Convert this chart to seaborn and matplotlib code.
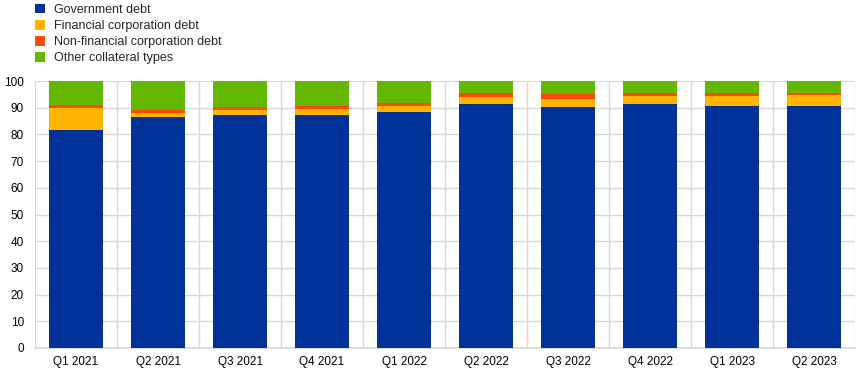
import numpy as np
import pandas as pd
import matplotlib
matplotlib.use("Agg")
import matplotlib.pyplot as plt
import seaborn as sns
from matplotlib.patches import Patch

quarters = ["Q1 2021", "Q2 2021", "Q3 2021", "Q4 2021", "Q1 2022",
            "Q2 2022", "Q3 2022", "Q4 2022", "Q1 2023", "Q2 2023"]
government = [81.7, 86.5, 87.3, 87.3, 88.3, 91.5, 90.1, 91.5, 90.5, 90.8]
financial = [8.3, 1.7, 1.7, 2.2, 2.3, 2.6, 3.2, 2.9, 3.9, 3.8]
nonfinancial = [1.0, 1.1, 1.3, 1.3, 1.0, 1.5, 1.7, 1.2, 1.2, 1.0]
other = [9.0, 10.7, 9.7, 9.2, 8.4, 4.4, 5.0, 4.4, 4.4, 4.4]

series_names = ["Government debt", "Financial corporation debt",
                "Non-financial corporation debt", "Other collateral types"]
colors = ["#003299", "#FFB400", "#FF4B00", "#65B800"]

sns.set_theme(style="white")
plt.rcParams["font.family"] = ["Liberation Sans", "DejaVu Sans"]

df = pd.DataFrame({"quarter": quarters, "gov": government, "fin": financial,
                   "nfc": nonfinancial, "oth": other})
cols = ["gov", "fin", "nfc", "oth"]
cum = df[cols].cumsum(axis=1)

fig = plt.figure(figsize=(8.68, 3.77), dpi=100)
ax = fig.add_axes([35 / 868, 29 / 377, 820 / 868, 267 / 377])

# draw from top layer down so lower segments overlay
for i in range(3, -1, -1):
    sns.barplot(x=df["quarter"], y=cum[cols[i]], color=colors[i], ax=ax,
                width=0.66, saturation=1, edgecolor="none", linewidth=0, zorder=3)

ax.set_xlim(-0.5, len(quarters) - 0.5)
ax.set_ylim(0, 100)
ax.set_yticks(np.arange(0, 101, 10))
ax.set_xlabel("")
ax.set_ylabel("")
ax.yaxis.grid(True, color="#d9d9d9", linewidth=1, zorder=0)
for xv in np.arange(-0.5, len(quarters), 1.0):
    ax.axvline(xv, color="#d9d9d9", linewidth=1, zorder=0)
for s in ["top", "right", "left"]:
    ax.spines[s].set_visible(False)
ax.spines["bottom"].set_color("#d9d9d9")
ax.tick_params(axis="both", labelsize=8.5, colors="black", length=0, pad=6)
ax.tick_params(axis="y", pad=8)

handles = [Patch(facecolor=c, edgecolor="none") for c in colors]
fig.legend(handles, series_names, loc="upper left", bbox_to_anchor=(30 / 868, 1.003),
           frameon=False, fontsize=9, handlelength=0.8, handleheight=0.8,
           handletextpad=0.75, labelspacing=0.32, borderaxespad=0)

fig.savefig("out.png", dpi=100)
